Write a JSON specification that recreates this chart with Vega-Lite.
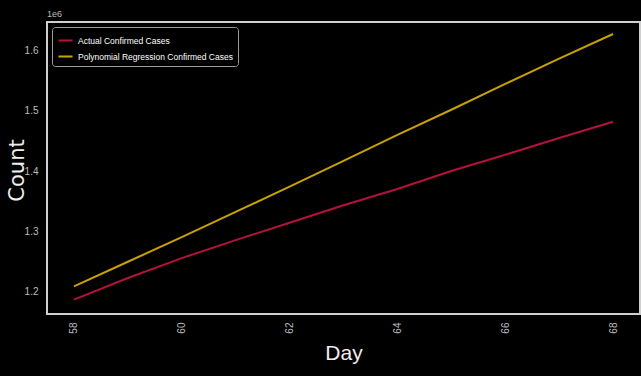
{
  "$schema": "https://vega.github.io/schema/vega-lite/v6.json",
  "width": 593,
  "height": 292,
  "autosize": {"type": "none"},
  "padding": {"left": 47, "top": 22, "right": 1, "bottom": 62},
  "background": "#000000",
  "title": {
    "text": "1e6",
    "anchor": "start",
    "frame": "group",
    "fontSize": 9,
    "fontWeight": "normal",
    "font": "Liberation Sans, sans-serif",
    "color": "#bbbbbb",
    "offset": 3
  },
  "config": {
    "view": {"stroke": "#cfcfcf", "strokeWidth": 2},
    "axis": {
      "domain": false,
      "grid": false,
      "ticks": false,
      "labelColor": "#bdbdbd",
      "labelFont": "Liberation Sans, sans-serif",
      "labelFontSize": 10,
      "titleColor": "#eeeeee",
      "titleFontWeight": "normal"
    }
  },
  "data": {
    "values": [
      {"Day": 58, "Count": 1186000, "Series": "Actual Confirmed Cases"},
      {"Day": 59, "Count": 1222000, "Series": "Actual Confirmed Cases"},
      {"Day": 60, "Count": 1255000, "Series": "Actual Confirmed Cases"},
      {"Day": 61, "Count": 1285000, "Series": "Actual Confirmed Cases"},
      {"Day": 62, "Count": 1314000, "Series": "Actual Confirmed Cases"},
      {"Day": 63, "Count": 1343000, "Series": "Actual Confirmed Cases"},
      {"Day": 64, "Count": 1370000, "Series": "Actual Confirmed Cases"},
      {"Day": 65, "Count": 1400000, "Series": "Actual Confirmed Cases"},
      {"Day": 66, "Count": 1427000, "Series": "Actual Confirmed Cases"},
      {"Day": 67, "Count": 1455000, "Series": "Actual Confirmed Cases"},
      {"Day": 68, "Count": 1482000, "Series": "Actual Confirmed Cases"},
      {"Day": 58, "Count": 1208000, "Series": "Polynomial Regression Confirmed Cases"},
      {"Day": 59, "Count": 1249000, "Series": "Polynomial Regression Confirmed Cases"},
      {"Day": 60, "Count": 1290000, "Series": "Polynomial Regression Confirmed Cases"},
      {"Day": 61, "Count": 1332000, "Series": "Polynomial Regression Confirmed Cases"},
      {"Day": 62, "Count": 1374000, "Series": "Polynomial Regression Confirmed Cases"},
      {"Day": 63, "Count": 1417000, "Series": "Polynomial Regression Confirmed Cases"},
      {"Day": 64, "Count": 1460000, "Series": "Polynomial Regression Confirmed Cases"},
      {"Day": 65, "Count": 1502000, "Series": "Polynomial Regression Confirmed Cases"},
      {"Day": 66, "Count": 1545000, "Series": "Polynomial Regression Confirmed Cases"},
      {"Day": 67, "Count": 1587000, "Series": "Polynomial Regression Confirmed Cases"},
      {"Day": 68, "Count": 1628000, "Series": "Polynomial Regression Confirmed Cases"}
    ]
  },
  "mark": {"type": "line", "strokeWidth": 2},
  "encoding": {
    "x": {
      "field": "Day",
      "type": "quantitative",
      "scale": {"domain": [57.5, 68.5], "nice": false, "zero": false},
      "axis": {
        "values": [58, 60, 62, 64, 66, 68],
        "labelAngle": -90,
        "labelPadding": 8,
        "title": "Day",
        "titleFont": "Liberation Sans, sans-serif",
        "titleFontSize": 21,
        "titlePadding": 9
      }
    },
    "y": {
      "field": "Count",
      "type": "quantitative",
      "scale": {"domain": [1162000, 1648000], "nice": false, "zero": false},
      "axis": {
        "values": [1200000, 1300000, 1400000, 1500000, 1600000],
        "labelExpr": "format(datum.value / 1000000, '.1f')",
        "labelPadding": 9,
        "title": "Count",
        "titleFont": "DejaVu Sans, sans-serif",
        "titleFontSize": 21,
        "titleAngle": -90,
        "titleX": -30,
        "titleY": 148,
        "titleAlign": "center",
        "titleBaseline": "middle"
      }
    },
    "color": {
      "field": "Series",
      "type": "nominal",
      "scale": {
        "domain": ["Actual Confirmed Cases", "Polynomial Regression Confirmed Cases"],
        "range": ["#b3123c", "#c9a100"]
      },
      "legend": {
        "title": null,
        "orient": "none",
        "legendX": 5,
        "legendY": 5,
        "symbolType": "stroke",
        "symbolSize": 200,
        "symbolStrokeWidth": 2,
        "labelColor": "#ffffff",
        "labelFont": "Liberation Sans, sans-serif",
        "labelFontSize": 8.5,
        "labelLimit": 0,
        "rowPadding": 3,
        "padding": 5,
        "fillColor": "#000000",
        "strokeColor": "#9a9a9a",
        "cornerRadius": 3
      }
    }
  }
}
